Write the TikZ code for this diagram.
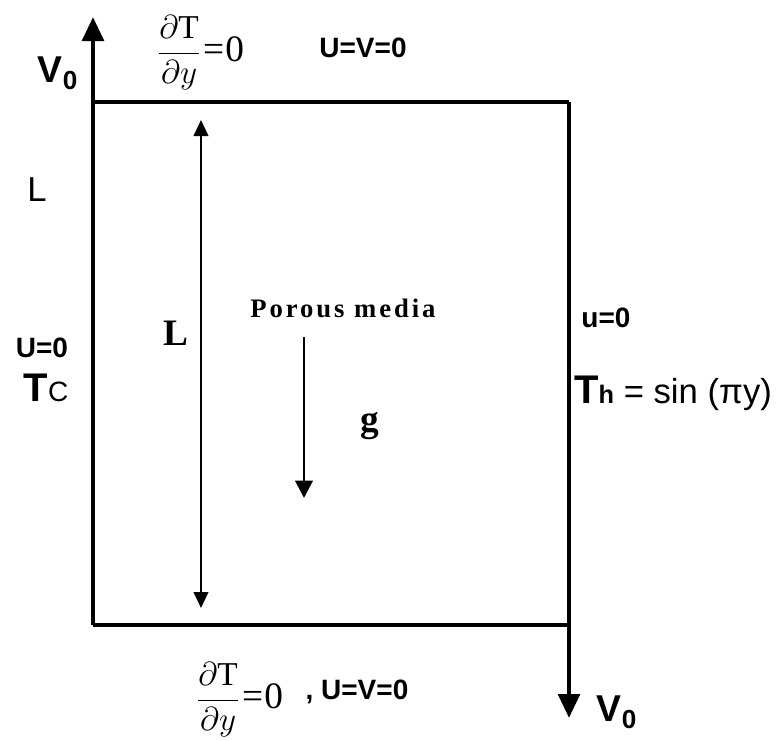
\documentclass[tikz,border=0pt]{standalone}
\usepackage{fontspec}
\setmainfont{Liberation Serif}
\setsansfont{Liberation Sans}
\usetikzlibrary{arrows.meta,positioning}

\tikzset{
  wall/.style={line width=3.5pt},
  lid/.style={line width=2.6pt},
  velarrow/.style={wall,-{Triangle[length=18pt,width=16pt]}},
  dimarrow/.style={line width=1.5pt,{Triangle[length=12pt,width=11pt]}-{Triangle[length=12pt,width=11pt]}},
  gravarrow/.style={line width=2.2pt,-{Triangle[length=13pt,width=13pt]}},
  bclabel/.style={font=\sffamily\bfseries\fontsize{21}{24}\selectfont,inner sep=0pt},
  biglabel/.style={font=\sffamily\fontsize{26}{30}\selectfont,inner sep=0pt},
  serlabel/.style={font=\bfseries\fontsize{28}{32}\selectfont,inner sep=0pt},
  fraclabel/.style={inner sep=0pt,font=\fontsize{25}{30}\selectfont}
}
\newcommand{\dTdy}{$\displaystyle\frac{\partial\mathrm{T}}{\partial y}$\kern2pt{\fontsize{28}{32}\selectfont=\kern1pt0}}

\begin{document}
\begin{tikzpicture}[x=0.75pt,y=-0.75pt]
\useasboundingbox (0,0) rectangle (782,740);
% cavity corners
\coordinate (tl) at (93,102);
\coordinate (tr) at (569,102);
\coordinate (bl) at (93,625);
\coordinate (br) at (569,625);
\coordinate (vtop) at (93,17);
\coordinate (vbot) at (569,718);
% walls
\draw[lid] (tl) -- (tr);
\draw[lid] (bl) -- (br);
\draw[velarrow] (bl) -- (vtop);
\draw[velarrow] (tr) -- (vbot);
% cavity height
\coordinate (ltop) at (201,120);
\coordinate (lbot) at (201,608);
\draw[dimarrow] (ltop) -- (lbot);
\node[serlabel] (lin) at (176,333) {L};
% gravity
\node[font=\bfseries\fontsize{20}{24}\selectfont,inner sep=0pt] (porous) at (343,308) {\addfontfeature{LetterSpace=11}Porous media};
\coordinate (gtop) at (304,337);
\coordinate (gbot) at (304,498);
\draw[gravarrow] (gtop) -- (gbot);
\node[serlabel] (g) at (370,426) {g};
% top boundary
\node[font=\sffamily\bfseries\fontsize{28}{32}\selectfont,inner sep=0pt] (v0top) at (58,73) {V\textsubscript{0}};
\node[fraclabel] (dtop) at (201,53) {\dTdy};
\node[bclabel] (uvtop) at (363,48) {U=V=0};
% left boundary
\node[biglabel] (lout) at (37,190) {L};
\node[bclabel] (uleft) at (42,348) {U=0};
\node[inner sep=0pt] (tc) at (46,388) {\sffamily\bfseries\fontsize{30}{34}\selectfont T\mdseries\fontsize{21}{24}\selectfont C};
% right boundary
\node[bclabel] (uright) at (606,318) {u=0};
\node[anchor=west,inner sep=0pt] (th) at (574,393) {\sffamily\bfseries\fontsize{30}{34}\selectfont T\fontsize{19}{22}\selectfont h\mdseries\fontsize{26}{30}\selectfont{} = sin (πy)};
% bottom boundary
\node[fraclabel] (dbot) at (240,700) {\dTdy};
\node[bclabel] (uvbot) at (357,692) {, U=V=0};
\node[font=\sffamily\bfseries\fontsize{28}{32}\selectfont,inner sep=0pt] (v0bot) at (617,712) {V\textsubscript{0}};
\end{tikzpicture}
\end{document}
